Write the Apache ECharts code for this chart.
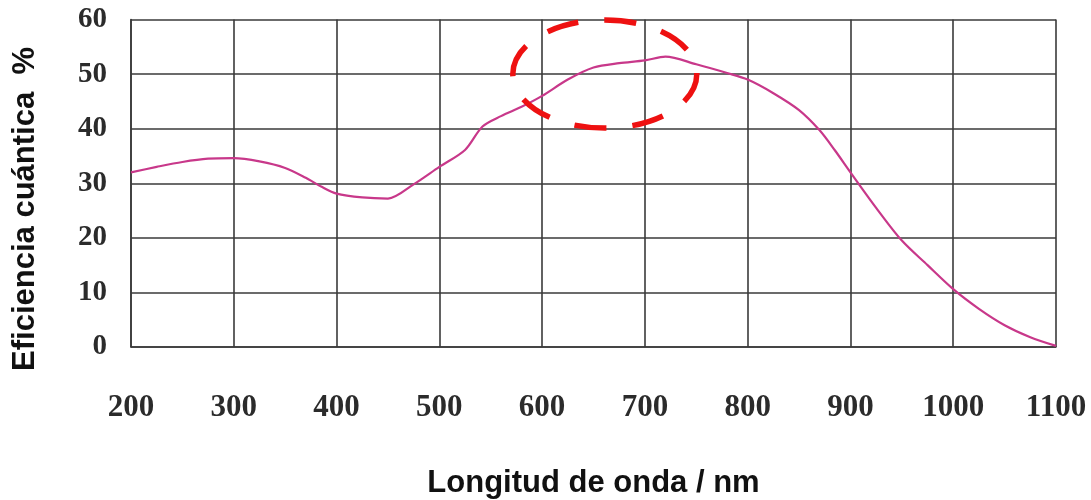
<!DOCTYPE html>
<html>
<head>
<meta charset="utf-8">
<script src="https://cdn.jsdelivr.net/npm/echarts@6/dist/echarts.min.js"></script>
<style>
  html, body { margin: 0; padding: 0; background: #fff; }
  #chart { width: 1091px; height: 500px; }
</style>
</head>
<body>
<div id="chart"></div>
<script>
// Quantum efficiency curve (wavelength in nm, efficiency in %)
const wavelengths = [200, 225, 250, 275, 300, 325, 350, 370, 385, 400, 425, 450, 475, 500, 525, 542, 560, 580, 600, 625, 650, 675, 700, 720, 750, 780, 800, 825, 850, 870, 885, 900, 925, 950, 975, 1000, 1025, 1050, 1075, 1100];
const efficiency  = [32.0, 33.0, 33.9, 34.5, 34.6, 34.0, 32.8, 31.0, 29.4, 28.1, 27.4, 27.2, 29.8, 33.0, 36.1, 40.4, 42.3, 44.0, 46.0, 49.0, 51.2, 52.0, 52.5, 53.2, 51.8, 50.2, 49.0, 46.5, 43.4, 39.7, 36.0, 32.0, 25.5, 19.5, 15.0, 10.6, 7.0, 4.0, 1.8, 0.2];

// Axis ticks
const xTicks = [200, 300, 400, 500, 600, 700, 800, 900, 1000, 1100];
const yTicks = [0, 10, 20, 30, 40, 50, 60];

// Highlighted region around the peak (data units: centre and half-widths)
const highlightCenter = [661, 50];
const highlightRadius = [89.5, 9.9];

const gridColor = '#3a3a3a';
const tickFont = { fontFamily: '"Liberation Serif", "Times New Roman", serif', fontWeight: 'bold', color: '#2b2b2b' };

const chart = echarts.init(document.getElementById('chart'));

const option = {
  animation: false,
  backgroundColor: '#ffffff',
  grid: { left: 131, right: 35, top: 19.5, bottom: 153, outerBoundsMode: 'none', containLabel: false },
  xAxis: {
    type: 'value',
    min: xTicks[0],
    max: xTicks[xTicks.length - 1],
    interval: 100,
    name: 'Longitud de onda / nm',
    nameLocation: 'middle',
    nameGap: 121,
    nameTextStyle: { fontFamily: '"Liberation Sans", Arial, sans-serif', fontWeight: 'bold', fontSize: 31, color: '#111' },
    axisLine: { show: true, lineStyle: { color: gridColor, width: 1.6 } },
    axisTick: { show: false },
    axisLabel: Object.assign({ fontSize: 31, margin: 45, formatter: v => String(v) }, tickFont),
    splitLine: { show: true, lineStyle: { color: gridColor, width: 1.6 } }
  },
  yAxis: {
    type: 'value',
    min: yTicks[0],
    max: yTicks[yTicks.length - 1],
    interval: 10,
    axisLine: { show: true, lineStyle: { color: gridColor, width: 1.6 } },
    axisTick: { show: false },
    axisLabel: Object.assign({ fontSize: 29, margin: 24, formatter: v => String(v) }, tickFont),
    splitLine: { show: true, lineStyle: { color: gridColor, width: 1.6 } }
  },
  series: [{
    type: 'line',
    data: wavelengths.map((w, i) => [w, efficiency[i]]),
    smooth: 0.3,
    symbol: 'none',
    lineStyle: { color: '#c8388a', width: 2.2 },
    z: 3
  }]
};

chart.setOption(option);

// Vertical axis title and dashed ellipse, placed from data coordinates
const c = chart.convertToPixel({ gridIndex: 0 }, highlightCenter);
const e = chart.convertToPixel({ gridIndex: 0 }, [highlightCenter[0] + highlightRadius[0], highlightCenter[1] + highlightRadius[1]]);

chart.setOption({
  graphic: [
    {
      type: 'text',
      x: 25,
      y: 209,
      rotation: Math.PI / 2,
      style: {
        text: 'Eficiencia cuántica  %',
        font: 'bold 31px "Liberation Sans", Arial, sans-serif',
        fill: '#111',
        align: 'center',
        verticalAlign: 'middle'
      }
    },
    {
      type: 'ellipse',
      shape: { cx: c[0], cy: c[1], rx: Math.abs(e[0] - c[0]), ry: Math.abs(c[1] - e[1]) },
      style: { fill: 'none', stroke: '#ee1111', lineWidth: 5.5, lineDash: [32, 26] },
      z: 10
    }
  ]
});
</script>
</body>
</html>
